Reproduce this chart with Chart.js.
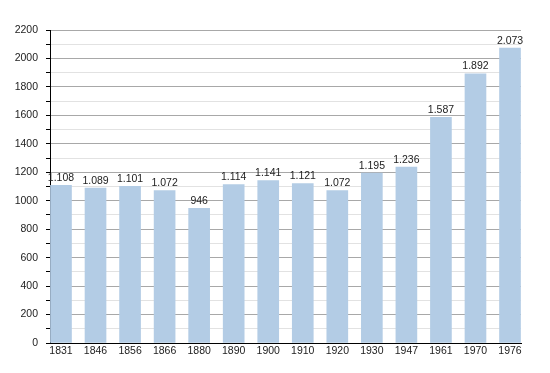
<!DOCTYPE html>
<html lang="fr">
<head>
    <meta charset="UTF-8">
    <title>Population</title>
    <script src="https://cdn.jsdelivr.net/npm/chart.js"></script>
    <style>
        html, body { margin: 0; padding: 0; background: #fff; }
        #wrap { width: 550px; height: 373px; }
    </style>
</head>
<body>
    <div id="wrap"><canvas id="grafico"></canvas></div>

<script>
    const annees = ['1831', '1846', '1856', '1866', '1880', '1890', '1900', '1910', '1920', '1930', '1947', '1961', '1970', '1976'];
    const habitants = [1108, 1089, 1101, 1072, 946, 1114, 1141, 1121, 1072, 1195, 1236, 1587, 1892, 2073];
    const yMax = 2200;

    // 1.108 style
    function formate(v) {
        if (v < 1000) return String(v);
        return Math.floor(v / 1000) + '.' + String(v % 1000).padStart(3, '0');
    }

    const etiquettes = {
        id: 'etiquettes',
        afterDatasetsDraw(chart) {
            const ctx = chart.ctx;
            const meta = chart.getDatasetMeta(0);
            ctx.save();
            ctx.font = '10.5px "Liberation Sans", Arial, sans-serif';
            ctx.fillStyle = '#222';
            ctx.textAlign = 'center';
            ctx.textBaseline = 'bottom';
            meta.data.forEach((bar, i) => {
                ctx.fillText(formate(habitants[i]), bar.x, bar.y - 2);
            });
            ctx.restore();
        }
    };

    const police = { family: '"Liberation Sans", Arial, sans-serif', size: 10.5 };

    new Chart(document.getElementById('grafico'), {
        type: 'bar',
        data: {
            datasets: [{
                data: habitants.map((v, i) => ({ x: i, y: v })),
                backgroundColor: '#b3cce5',
                barThickness: 21,
                borderWidth: 0
            }]
        },
        options: {
            responsive: true,
            maintainAspectRatio: false,
            animation: false,
            layout: { padding: { top: 30, right: 29, left: 0, bottom: 0 } },
            plugins: { legend: { display: false }, tooltip: { enabled: false } },
            scales: {
                x: {
                    type: 'linear',
                    offset: false,
                    min: -0.318,
                    max: 13.318,
                    afterBuildTicks: (s) => { s.ticks = annees.map((a, i) => ({ value: i })); },
                    afterFit: (s) => { s.height = 30; },
                    ticks: {
                        callback: (v) => annees[v],
                        color: '#222',
                        font: police,
                        padding: 2,
                        maxRotation: 0,
                        autoSkip: false
                    },
                    grid: { display: false, drawTicks: false, offset: false },
                    border: { color: '#000', width: 1 }
                },
                y: {
                    min: 0,
                    max: yMax,
                    afterFit: (s) => { s.width = 50; },
                    ticks: {
                        stepSize: 100,
                        maxTicksLimit: 50,
                        autoSkip: false,
                        callback: (v) => (v % 200 === 0 ? v : ''),
                        color: '#222',
                        font: police,
                        padding: 8
                    },
                    grid: {
                        color: (c) => (c.tick.value % 200 === 0 ? '#a8a8a8' : '#e2e2e2'),
                        tickColor: '#000',
                        tickLength: 4
                    },
                    border: { color: '#000', width: 1 }
                }
            }
        },
        plugins: [etiquettes]
    });
</script>
</body>
</html>
